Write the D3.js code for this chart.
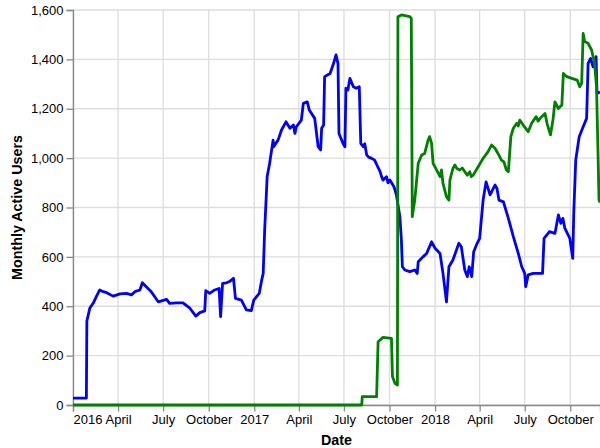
<!DOCTYPE html>
<html>
<head>
<meta charset="utf-8">
<script src="https://cdn.jsdelivr.net/npm/d3@7"></script>
<style>
  body { margin: 0; background: #fff; }
  svg { display: block; font-family: "Liberation Sans", Arial, sans-serif; }
</style>
</head>
<body>
<svg id="chart" width="600" height="448"></svg>
<script>
// blue series
var blueDates = ["2016-01-01","2016-01-28","2016-01-29","2016-02-04","2016-02-11","2016-02-17","2016-02-24","2016-03-02","2016-03-09","2016-03-22",
  "2016-04-05","2016-04-18","2016-04-28","2016-05-05","2016-05-15","2016-05-20","2016-05-28","2016-06-07","2016-06-21","2016-07-08",
  "2016-07-14","2016-07-28","2016-08-10","2016-08-24","2016-09-05","2016-09-13","2016-09-23","2016-09-25","2016-10-03","2016-10-13",
  "2016-10-22","2016-10-25","2016-10-29","2016-11-06","2016-11-12","2016-11-20","2016-11-24","2016-12-06","2016-12-16","2016-12-26",
  "2016-12-31","2017-01-11","2017-01-16","2017-01-19","2017-01-22","2017-01-27","2017-02-01","2017-02-08","2017-02-09","2017-02-18",
  "2017-02-25","2017-03-06","2017-03-14","2017-03-21","2017-03-24","2017-03-27","2017-04-06","2017-04-10","2017-04-18","2017-04-22",
  "2017-05-03","2017-05-10","2017-05-15","2017-05-17","2017-05-21","2017-05-23","2017-06-03","2017-06-09","2017-06-15","2017-06-19",
  "2017-06-21","2017-06-29","2017-07-03","2017-07-05","2017-07-09","2017-07-13","2017-07-20","2017-07-26","2017-08-01","2017-08-04",
  "2017-08-09","2017-08-12","2017-08-16","2017-08-20","2017-08-26","2017-09-01","2017-09-07","2017-09-12","2017-09-15","2017-09-18",
  "2017-09-25","2017-09-28","2017-10-02","2017-10-10","2017-10-15",
  "2017-10-22","2017-10-25","2017-10-27","2017-11-01","2017-11-11","2017-11-21","2017-11-26","2017-11-28","2017-12-08","2017-12-15",
  "2017-12-25","2018-01-01","2018-01-11","2018-01-17","2018-01-24","2018-01-29","2018-02-06","2018-02-18","2018-02-23","2018-03-02",
  "2018-03-07","2018-03-11","2018-03-16","2018-03-20","2018-03-27","2018-04-01","2018-04-08","2018-04-14","2018-04-22","2018-05-02",
  "2018-05-06","2018-05-10","2018-05-19","2018-05-29","2018-06-08","2018-06-18","2018-06-25","2018-07-01","2018-07-03","2018-07-08",
  "2018-07-18","2018-08-06","2018-08-09","2018-08-20","2018-08-31","2018-09-07","2018-09-12","2018-09-16","2018-09-20","2018-09-30",
  "2018-10-06","2018-10-08","2018-10-12","2018-10-19","2018-10-27","2018-11-03","2018-11-06","2018-11-11","2018-11-16","2018-11-22",
  "2018-11-24","2018-11-30"];
var blueUsers = [28,28,340,393,413,439,466,459,455,441,
  450,452,446,459,466,495,479,459,418,428,
  412,414,414,392,360,374,381,463,452,466,
  472,358,493,495,500,513,432,425,385,382,
  425,452,506,533,709,925,979,1073,1046,1073,
  1114,1147,1121,1134,1100,1127,1154,1222,1228,1195,
  1161,1046,1033,1121,1134,1330,1343,1377,1418,1384,
  1100,1060,1046,1283,1276,1323,1289,1283,1289,1060,
  1046,1058,1013,1004,999,992,966,945,925,911,
  925,900,911,884,851,
  763,668,560,547,540,547,533,580,601,614,
  661,635,614,533,418,560,587,655,641,547,
  520,560,520,621,655,675,830,904,851,891,
  877,830,823,756,682,614,560,533,479,527,
  533,533,675,702,695,770,736,756,716,675,
  594,776,992,1087,1127,1161,1384,1404,1370,1411,
  1262,1268];

// green series
var greenDates = ["2016-01-01","2017-08-06","2017-08-07","2017-09-05","2017-09-08","2017-09-18","2017-10-05","2017-10-07","2017-10-12","2017-10-17",
  "2017-10-18","2017-10-25","2017-11-11","2017-11-14","2017-11-16","2017-11-21","2017-11-28","2017-12-05","2017-12-11","2017-12-18",
  "2017-12-21","2017-12-25","2017-12-28","2018-01-04","2018-01-11","2018-01-14","2018-01-17","2018-01-24","2018-01-29","2018-01-31",
  "2018-02-06","2018-02-10","2018-02-14","2018-02-20","2018-02-25","2018-03-02","2018-03-07","2018-03-12","2018-03-15","2018-03-19",
  "2018-03-29","2018-04-08","2018-04-18",
  "2018-04-25","2018-05-02","2018-05-08","2018-05-15","2018-05-20","2018-05-25","2018-05-29","2018-06-03","2018-06-08","2018-06-15",
  "2018-06-18","2018-06-21","2018-06-28","2018-07-08","2018-07-15","2018-07-24","2018-07-28","2018-08-01","2018-08-11","2018-08-15",
  "2018-08-22","2018-08-27",
  "2018-08-31","2018-09-07","2018-09-14","2018-09-17","2018-09-24","2018-10-04","2018-10-15","2018-10-20","2018-10-24","2018-10-27",
  "2018-10-30","2018-11-06","2018-11-13","2018-11-19","2018-11-23","2018-11-26","2018-11-28","2018-11-30"];
var greenUsers = [0,0,34,34,256,274,270,115,88,81,
  1573,1580,1573,1566,763,830,979,1013,1019,1073,
  1087,1060,979,952,925,952,898,844,830,911,
  958,972,958,952,960,945,931,945,925,931,
  965,999,1026,
  1053,1040,1019,992,985,952,945,1087,1121,1141,
  1130,1154,1134,1107,1141,1168,1150,1161,1181,1141,
  1094,1154,
  1228,1201,1215,1343,1330,1323,1316,1289,1303,1505,
  1472,1465,1438,1384,1289,1019,830,820];

var yTicks = [0, 200, 400, 600, 800, 1000, 1200, 1400, 1600];
var xTitle = "Date";
var yTitle = "Monthly Active Users";

function drawChart() {
    var svg = d3.select("#chart"),
        left = 73, right = 600, top = 10, bottom = 405;

    var parse = d3.timeParse("%Y-%m-%d");
    var blue = blueDates.map(function(d, i) { return { date: parse(d), value: blueUsers[i] }; });
    var green = greenDates.map(function(d, i) { return { date: parse(d), value: greenUsers[i] }; });

    var x = d3.scaleTime()
              .domain([parse(blueDates[0]), parse(blueDates[blueDates.length - 1])])
              .range([left, right]);
    var y = d3.scaleLinear()
              .domain([0, 1600])
              .range([bottom, top]);

    var xTicks = d3.timeMonth.every(3).range(x.domain()[0], x.domain()[1]);
    var monthName = d3.timeFormat("%B"), yearName = d3.timeFormat("%Y");
    var fmt = function(d) { return d.getMonth() === 0 ? yearName(d) : monthName(d); };

    // grid
    svg.append("g")
       .selectAll("line.gx")
       .data(xTicks)
       .enter().append("line")
       .attr("x1", function(d) { return x(d); })
       .attr("x2", function(d) { return x(d); })
       .attr("y1", top).attr("y2", bottom)
       .attr("stroke", "#ddd").attr("stroke-width", 1.3);
    svg.append("g")
       .selectAll("line.gy")
       .data(yTicks)
       .enter().append("line")
       .attr("x1", left).attr("x2", right)
       .attr("y1", function(d) { return y(d); })
       .attr("y2", function(d) { return y(d); })
       .attr("stroke", "#ddd").attr("stroke-width", 1.3);

    // axes
    var xAxis = svg.append("g")
       .attr("transform", "translate(0," + bottom + ")")
       .call(d3.axisBottom(x).tickValues(xTicks).tickFormat(fmt).tickSize(6.5).tickPadding(3));
    var yAxis = svg.append("g")
       .attr("transform", "translate(" + left + ",0)")
       .call(d3.axisLeft(y).tickValues(yTicks).tickFormat(d3.format(",")).tickSize(6.5).tickPadding(3));

    [xAxis, yAxis].forEach(function(a) {
        a.select(".domain").attr("stroke", "#888").attr("stroke-width", 1.3);
        a.selectAll(".tick line").attr("stroke", "#888").attr("stroke-width", 1.3);
        a.selectAll(".tick text")
         .attr("fill", "#000")
         .attr("font-size", 13)
         .attr("font-family", "Liberation Sans, Arial, sans-serif");
    });
    xAxis.selectAll(".tick text")
         .filter(function(d, i) { return i === 0; })
         .attr("text-anchor", "start");

    var line = d3.line()
                 .x(function(d) { return x(d.date); })
                 .y(function(d) { return y(d.value); });

    svg.append("path")
       .datum(blue)
       .attr("d", line)
       .attr("fill", "none")
       .attr("stroke", "#0000ff")
       .attr("stroke-width", 2.8)
       .attr("stroke-linejoin", "round");

    svg.append("path")
       .datum(green)
       .attr("d", line)
       .attr("fill", "none")
       .attr("stroke", "#008000")
       .attr("stroke-width", 2.8)
       .attr("stroke-linejoin", "round");

    // titles
    svg.append("text")
       .attr("x", (left + right) / 2)
       .attr("y", 445)
       .attr("text-anchor", "middle")
       .attr("font-size", 14.3)
       .attr("font-weight", "bold")
       .text(xTitle);

    svg.append("text")
       .attr("transform", "translate(22," + ((top + bottom) / 2) + ") rotate(-90)")
       .attr("text-anchor", "middle")
       .attr("font-size", 14.3)
       .attr("font-weight", "bold")
       .text(yTitle);
}

drawChart();
</script>
</body>
</html>
